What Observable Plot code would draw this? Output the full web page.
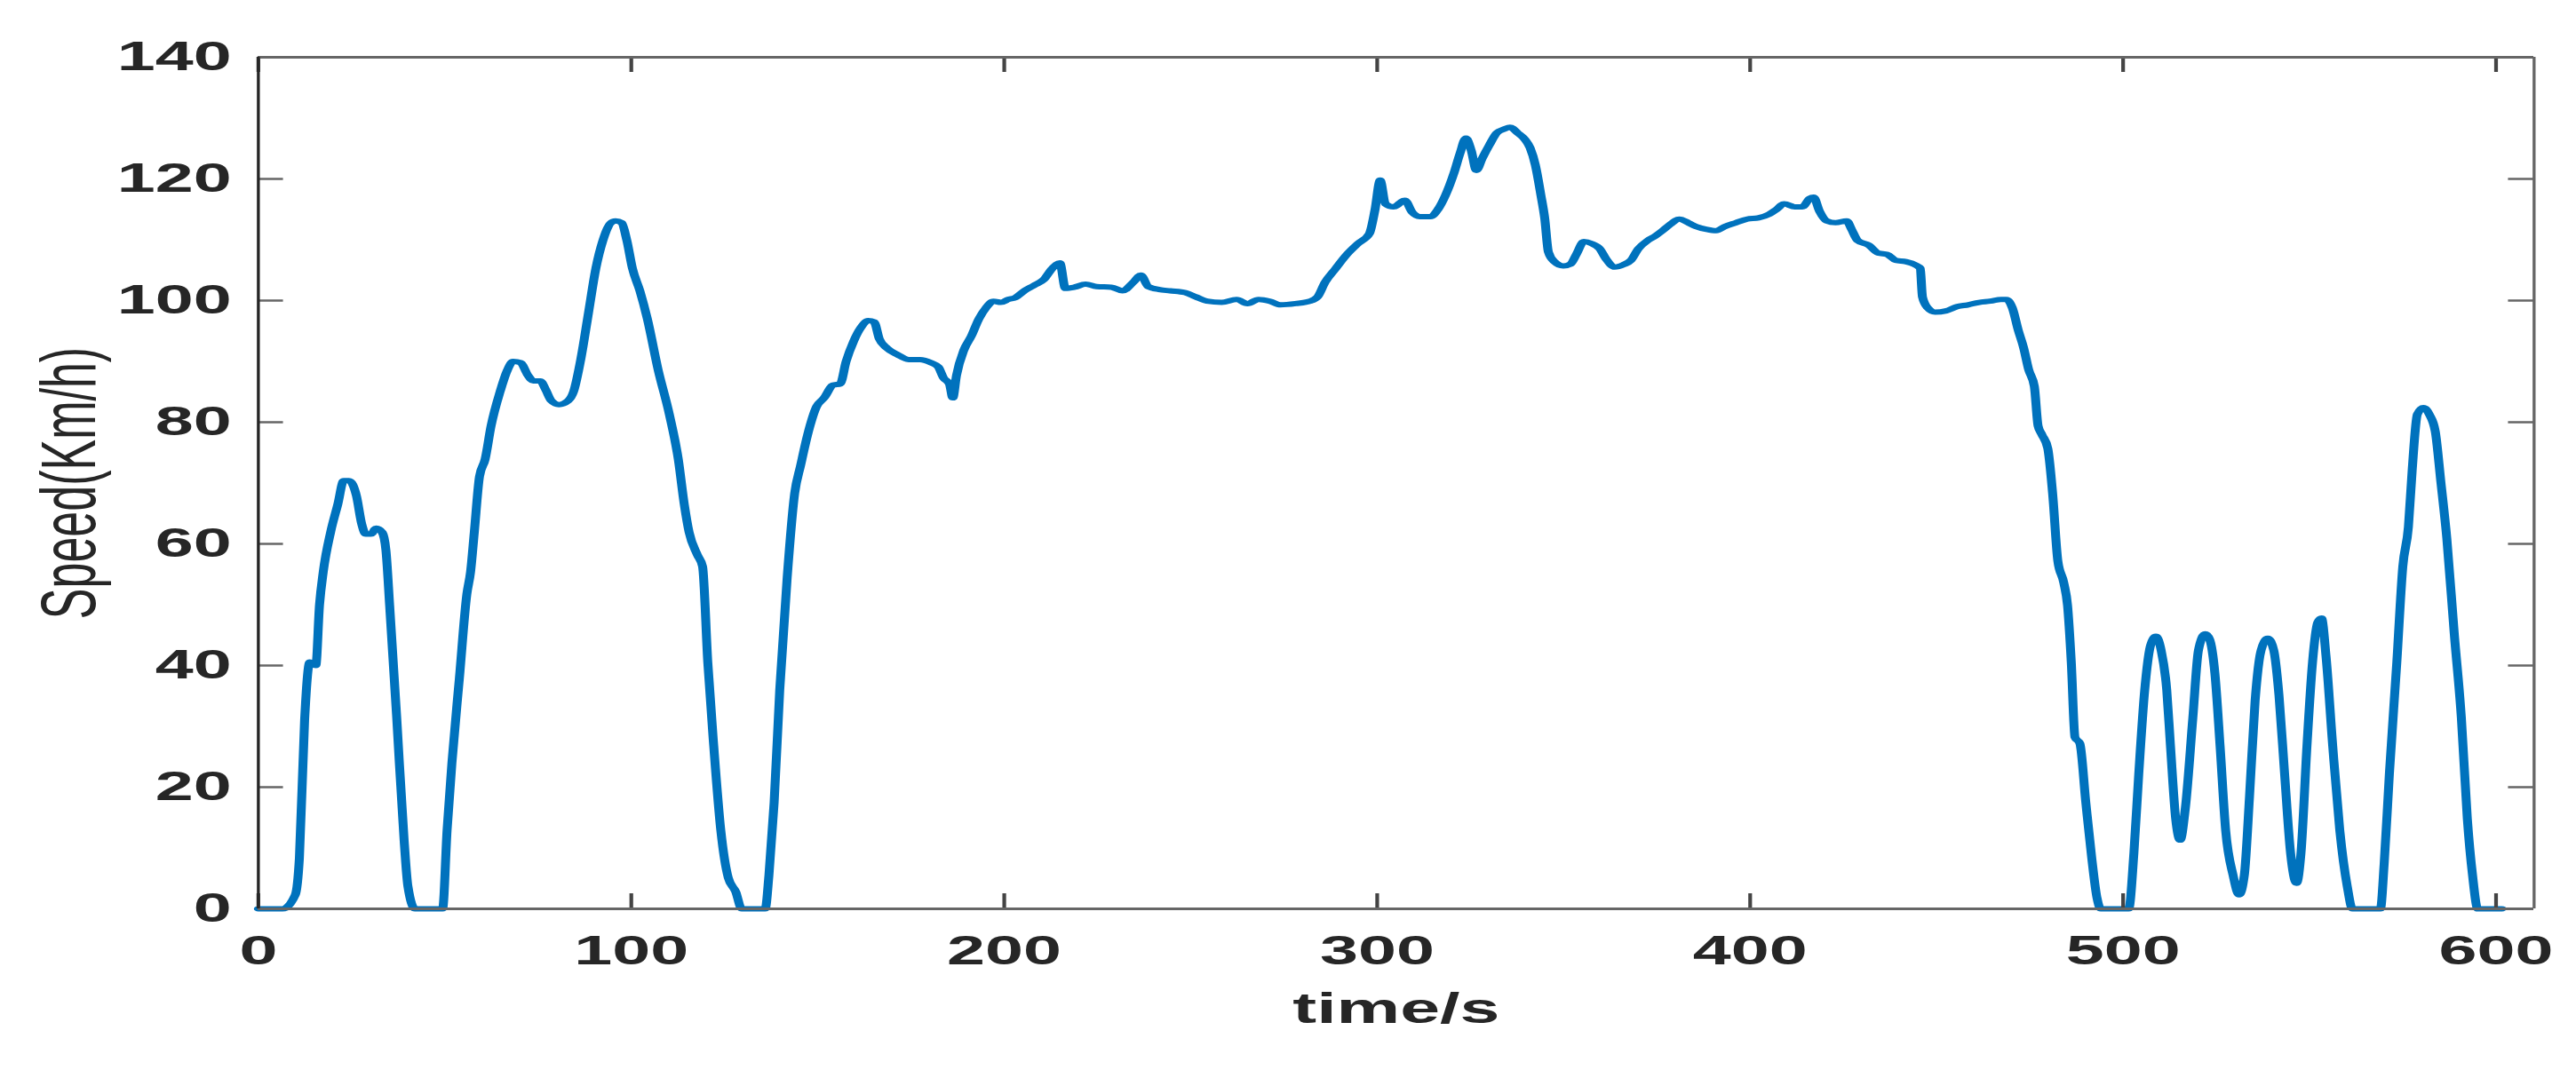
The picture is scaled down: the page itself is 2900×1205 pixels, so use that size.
<!DOCTYPE html>
<html><head><meta charset="utf-8">
<script src="https://cdn.jsdelivr.net/npm/d3@7"></script>
<script src="https://cdn.jsdelivr.net/npm/@observablehq/plot@0.6"></script>
<style>
html,body{margin:0;padding:0;background:#fff;overflow:hidden;}
#wrap{transform-origin:0 0;}
</style></head><body><div id="wrap"></div>
<script>
const time = [0, 6.5, 9.9, 11, 12.4, 13.8, 15.4, 16.4, 17.4, 19.4,
  21.3, 22.9, 24.3, 26.3, 27.7, 28.8, 30.2, 31.6, 33.2, 34.2,
  35.2, 37.1, 39.1, 40.1, 42, 49.4, 50.6, 51.9, 53.9, 55.9,
  56.9, 57.9, 59.3, 60.8, 62.4, 64.8, 66.8, 68.3, 70.3, 72.3,
  73.7, 75.6, 77, 78.6, 80.6, 83, 84.5, 86.5, 88.5, 90.5,
  92.4, 94.4, 95.8, 97.4, 98.8, 100.3, 102.3, 104.3, 107.2, 110.2,
  112.6, 114.2, 115.5, 117.7, 119.1, 120.5, 122.1, 124, 126, 128,
  129.6, 135.9, 136.9, 138.3, 139.8, 141.8, 143.8, 145.4, 147.3, 149.7,
  151.7, 154.1, 156, 157.6, 159.6, 161.6, 163.5, 165.1, 166.5, 168.5,
  171.4, 174.4, 177.4, 180.3, 182.3, 183.7, 185.3, 186.2, 187.2, 189.2,
  191.2, 193.2, 195.1, 197.1, 199.1, 201.1, 203, 205.4, 208, 210.5,
  212.9, 214.9, 216.4, 218.8, 221.8, 224.8, 228.7, 231.7, 234.6, 236.6,
  238.6, 241.6, 244.5, 248.5, 251.4, 254.4, 258.3, 262.3, 265.2, 268.2,
  271.2, 274.1, 278.1, 282, 284, 286, 288.9, 291.9, 294.9, 297.9,
  299.4, 300.8, 302.2, 304.4, 307.4, 309.4, 311.4, 314.3, 316.3, 318.3,
  320.6, 322.2, 323.8, 325.2, 326.6, 328.1, 330.1, 332.1, 334.1, 335.6,
  337.6, 339.6, 341, 342.4, 343.9, 344.9, 345.9, 347.5, 349.9, 351.8,
  353.4, 355.4, 357.4, 359.7, 361.3, 363.7, 366, 368, 370, 372.6,
  374.5, 376.5, 378.5, 381, 383.4, 385.4, 388.4, 390.9, 393.3, 396.2,
  399.2, 402.2, 405.1, 407.1, 409.1, 412, 414, 416, 417, 418.6,
  420.5, 422.9, 425.9, 427.2, 428.8, 431.8, 434.4, 436.7, 439.1, 441.7,
  444.2, 445.6, 446.2, 447.6, 449.6, 452.5, 455.5, 458.4, 461.4, 464.4,
  467.3, 468.7, 470.3, 471.9, 473.3, 474.7, 476.2, 477.2, 478.2, 479.8,
  481.1, 482.5, 484.1, 485.1, 486.1, 487.1, 488.4, 490, 491.6, 493,
  494, 501.5, 502.9, 504.2, 505.8, 507.4, 508.8, 510.2, 511.7, 512.7,
  514.1, 515.3, 516.7, 518.7, 520.2, 522, 523.2, 524.6, 526, 527.5,
  529.5, 531.1, 532.5, 533.9, 535.4, 537, 538.8, 540.4, 541.8, 543.3,
  544.9, 546.5, 547.7, 549.3, 550.8, 552.2, 553.2, 554.4, 556.2, 558.1,
  560.1, 561.5, 569, 570, 571.4, 573.4, 575, 576.5, 577.5, 578.9,
  580.5, 582.1, 583.7, 585.2, 586.8, 588.8, 590.7, 592.3, 593.7, 595.1,
  601.6];
const speed = [0, 0, 2.3, 8.3, 31, 40.6, 40, 50, 55.4, 62,
  66.5, 70.4, 70.4, 67.9, 63.3, 61.6, 61.6, 62.6, 61.9, 59,
  49.9, 31.4, 11.1, 3.7, 0, 0, 12.9, 24, 37.9, 51.7,
  55.4, 61.9, 71.1, 73.9, 79.4, 85, 88.6, 90, 89.8, 87.7,
  86.8, 86.8, 85.4, 83.5, 82.9, 83.5, 85, 90.5, 97.9, 105.3,
  109.9, 112.7, 113.1, 112.8, 109.9, 105.3, 101.6, 97, 88.6, 81.3,
  73.9, 66.5, 61.9, 58.2, 56.3, 40.6, 26.8, 12.9, 5.1, 2.8,
  0, 0, 5.5, 17.5, 36, 54.5, 68.3, 72.9, 78, 82.6,
  84, 86.1, 86.3, 90, 93.3, 95.6, 96.7, 96.5, 93.7, 92.2,
  91.1, 90.3, 90.3, 89.8, 89.1, 87.3, 86.3, 84, 87.7, 91.9,
  94.2, 97, 98.8, 99.9, 99.7, 100.2, 100.5, 101.6, 102.5, 103.4,
  105.3, 106.2, 102, 102.2, 102.7, 102.3, 102.2, 101.6, 103, 104.2,
  102.3, 101.8, 101.6, 101.3, 100.6, 99.9, 99.7, 100.2, 99.5, 100.2,
  99.9, 99.3, 99.5, 99.9, 100.6, 103, 105.3, 107.6, 109.4, 111,
  114.9, 119.8, 115.9, 115.4, 116.5, 114.5, 113.8, 113.8, 115, 117.3,
  121, 124.2, 126.7, 124.7, 121.4, 123.3, 125.6, 127.6, 128.2, 128.5,
  127.6, 126.5, 125.1, 122.3, 117.3, 113.6, 108, 106.4, 105.7, 106,
  107.6, 109.7, 109.4, 108.5, 106.9, 105.5, 105.9, 106.6, 108.5, 109.9,
  110.6, 111.5, 112.5, 113.4, 112.8, 112.2, 111.7, 111.5, 112.2, 112.8,
  113.4, 113.6, 114.2, 115, 115.9, 115.4, 115.4, 116.8, 117, 114.7,
  113.1, 112.8, 113.1, 111.7, 109.9, 109.1, 107.8, 107.6, 106.6, 106.4,
  105.9, 105.3, 100.6, 98.8, 98.1, 98.3, 99, 99.3, 99.7, 99.9,
  100.2, 100.2, 98.8, 95.1, 92.3, 88.6, 85.9, 79.4, 78, 75.7,
  68.3, 57.2, 53.6, 49.9, 40.6, 28.2, 27.2, 17.5, 8.3, 1.8,
  0, 0, 9.2, 22.2, 36, 43.4, 44.8, 42.5, 36, 26.8,
  14.8, 11.3, 16.6, 31.4, 42.5, 45.2, 44.3, 38.8, 26.8, 12.9,
  5.5, 2.3, 5.5, 18.5, 34.2, 42.5, 44.5, 42.5, 35.1, 22.2,
  9.2, 4.2, 9.2, 26.8, 40.6, 47.1, 47.8, 41.6, 26.8, 12.9,
  3.7, 0, 0, 7.4, 22.2, 40.6, 56.3, 62.8, 72, 81.3,
  82.4, 81.3, 78.5, 70.2, 60.9, 45.2, 31.4, 14.8, 5.5, 0,
  0];
const xTicks = [0, 100, 200, 300, 400, 500, 600];
const yTicks = [0, 20, 40, 60, 80, 100, 120, 140];
const xDomain = [0, 610.2];
const yDomain = [0, 140];
const xLabel = "time/s";
const yLabel = "Speed(Km/h)";

// The reference figure is stretched horizontally; reproduce with a uniform scaleX.
const S = 1.68;
const W = 2900 / S;
const H = 1205;
const mL = 290 / S, mR = 48 / S, mT = 64, mB = 182;
const innerW = W - mL - mR, innerH = H - mT - mB;
const tickLen = 17;
const font = "'Liberation Sans', Arial, Helvetica, sans-serif";
const ink = "#262626";

const data = time.map((t, i) => ({t, v: speed[i]}));

const chart = Plot.plot({
  width: W, height: H,
  marginLeft: mL, marginRight: mR, marginTop: mT, marginBottom: mB,
  x: {domain: xDomain},
  y: {domain: yDomain},
  style: {fontFamily: font, background: "#fff", overflow: "visible"},
  marks: [
    Plot.axisX(xTicks, {tickSize: 0, tickPadding: 30, fontSize: 46, fontWeight: "bold", fill: ink, label: null}),
    Plot.axisY(yTicks, {tickSize: 0, tickPadding: 18, fontSize: 46, fontWeight: "bold", fill: ink, label: null}),
    Plot.line(data, {x: "t", y: "v", stroke: "#0072BD", strokeWidth: 6, curve: "monotone-x"}),
    Plot.tickX(xTicks, {x: d => d, stroke: "#444", strokeWidth: 2.5, insetTop: innerH - tickLen}),
    Plot.tickX(xTicks, {x: d => d, stroke: "#444", strokeWidth: 2.5, insetBottom: innerH - tickLen}),
    Plot.tickY(yTicks, {y: d => d, stroke: "#666", strokeWidth: 2.5, insetRight: innerW - tickLen}),
    Plot.tickY(yTicks, {y: d => d, stroke: "#666", strokeWidth: 2.5, insetLeft: innerW - tickLen}),
    Plot.ruleY([yDomain[0]], {stroke: "#666", strokeWidth: 2.8}),
    Plot.ruleY([yDomain[1]], {stroke: "#666", strokeWidth: 2.8}),
    Plot.ruleX([xDomain[1]], {stroke: "#666", strokeWidth: 2}),
    Plot.ruleX([xDomain[0]], {stroke: ink, strokeWidth: 2}),
    Plot.text([xLabel], {text: d => d, frameAnchor: "bottom", textAnchor: "middle", lineAnchor: "middle", dy: 113, fontSize: 48, fontWeight: "bold", fill: ink}),
    Plot.text([yLabel], {text: d => d, frameAnchor: "left", textAnchor: "middle", lineAnchor: "middle", rotate: -90, dx: 78 / S - mL, fontSize: 52, fill: ink})
  ]
});

const wrap = document.getElementById("wrap");
wrap.style.width = W + "px";
wrap.style.transform = `scaleX(${S})`;
wrap.appendChild(chart);
</script>
</body></html>
